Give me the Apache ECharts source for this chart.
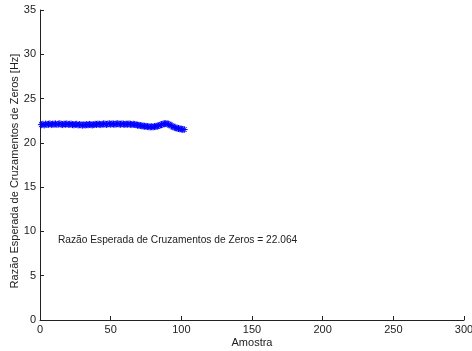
<!DOCTYPE html>
<html><head><meta charset="utf-8">
<script src="https://cdn.jsdelivr.net/npm/echarts@6/dist/echarts.min.js"></script>
<style>html,body{margin:0;padding:0;background:#fff}#c{width:472px;height:351px}</style>
</head><body><div id="c"></div>
<script>
const xTicks = [0,50,100,150,200,250,300];
const yTicks = [0,5,10,15,20,25,30,35];
const zcrValues = [
22.05,22.10,22.02,22.12,22.08,22.10,22.15,22.06,22.12,22.10,
22.14,22.08,22.12,22.16,22.10,22.06,22.12,22.10,22.14,22.08,
22.10,22.12,22.06,22.04,22.08,22.10,22.02,22.06,22.04,22.00,
22.04,22.02,22.06,22.04,22.08,22.06,22.02,22.06,22.10,22.08,
22.12,22.10,22.06,22.10,22.14,22.12,22.08,22.12,22.16,22.10,
22.14,22.12,22.10,22.14,22.16,22.12,22.10,22.14,22.12,22.08,
22.12,22.10,22.14,22.10,22.06,22.10,22.08,22.04,22.00,21.98,
21.96,21.92,21.90,21.88,21.86,21.84,21.82,21.80,21.82,21.80,
21.84,21.86,21.88,21.94,22.00,22.06,22.12,22.16,22.18,22.14,
22.10,22.02,21.92,21.84,21.76,21.70,21.66,21.62,21.58,21.55,
21.52,21.50];
const annotationText = 'Razão Esperada de Cruzamentos de Zeros = 22.064';
const annotationPos = [12, 9];

const data = zcrValues.map((v,i)=>[i+1,v]);
const font = 'Liberation Sans, Arial, sans-serif';
const chart = echarts.init(document.getElementById('c'));
const star = 'path://M0,-5L0,5M-5,0L5,0M-3.5,-3.5L3.5,3.5M-3.5,3.5L3.5,-3.5';
chart.setOption({
  animation:false,
  grid:{left:40,right:8,top:10,bottom:31,containLabel:false,outerBoundsMode:'none'},
  xAxis:{type:'value',min:0,max:300,interval:50,
    name:'Amostra',nameLocation:'middle',nameGap:17,nameMoveOverlap:false,
    nameTextStyle:{fontFamily:font,fontSize:11,color:'#222'},
    axisLine:{lineStyle:{color:'#222',width:1}},
    axisTick:{inside:true,length:4,lineStyle:{color:'#222'}},
    axisLabel:{fontFamily:font,fontSize:11,color:'#222',margin:4},
    splitLine:{show:false}},
  yAxis:{type:'value',min:0,max:35,interval:5,
    name:'Razão Esperada de Cruzamentos de Zeros [Hz]',nameLocation:'middle',nameGap:20,nameMoveOverlap:false,
    nameTextStyle:{fontFamily:font,fontSize:11,color:'#222',padding:[0,12,0,0]},
    axisLine:{show:true,lineStyle:{color:'#222',width:1}},
    axisTick:{show:true,inside:true,length:4,lineStyle:{color:'#222'}},
    axisLabel:{fontFamily:font,fontSize:11,color:'#222',margin:4},
    splitLine:{show:false}},
  series:[{
    type:'line',data:data,
    symbol:star,symbolSize:7,showAllSymbol:true,
    lineStyle:{color:'#0000ff',width:1},
    itemStyle:{color:'#0000ff',borderColor:'#0000ff',borderWidth:1},
    markPoint:{silent:true,symbol:'circle',symbolSize:0,
      data:[{coord:annotationPos,label:{show:true,formatter:annotationText,position:'right',
        fontFamily:font,fontSize:10.2,color:'#222',offset:[-4,0]}}]}
  }]
});
</script></body></html>
